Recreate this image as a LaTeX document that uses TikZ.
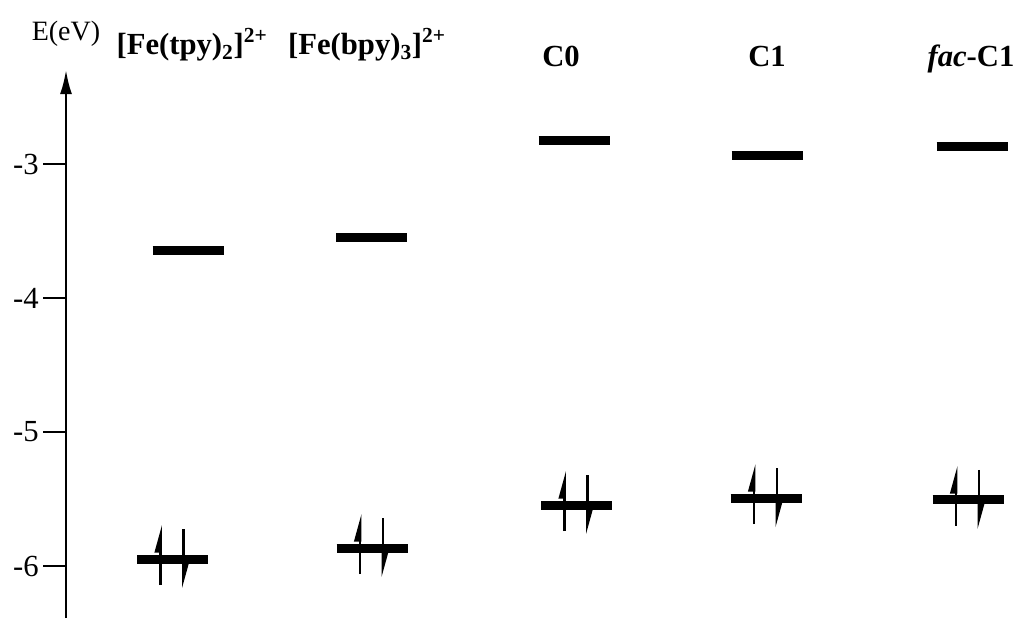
\documentclass[tikz,border=0pt]{standalone}
\usepackage{fontspec}
\setmainfont{Liberation Serif}
\usetikzlibrary{arrows.meta}

\tikzset{
  level/.style={line width=6.75pt},
  spin/.style={line width=2.2pt, -{Triangle[harpoon,length=17pt,width=8.5pt]}},
  molname/.style={anchor=base, inner sep=0pt, font=\fontsize{23}{27}\selectfont\bfseries},
}

\begin{document}
\begin{tikzpicture}[x=0.75pt, y=100.5pt]
      % page frame (pixels across, eV up)
      \useasboundingbox (0,-6.388) rectangle (1028,-1.776);

      % Energy axis
      \draw[line width=1.5pt, -{Latex[length=18pt,width=9pt]}] (66,-6.388) -- (66,-2.300);
      \node[font=\fontsize{21}{24}\selectfont, inner sep=0pt] (eaxis) at (66,-2.030) {E(eV)};
      \foreach \e [count=\i] in {-3,-4,-5,-6}{
        \draw[line width=1.5pt] (43,\e) -- (66,\e);
        \node[anchor=east, inner sep=0pt, font=\fontsize{23}{26}\selectfont] (tick\i) at (39,\e) {\e};
      }

      % Complexes
      \node[molname] (tpy) at (192,-2.185) {[Fe(tpy)\textsubscript{2}]\textsuperscript{2+}};
      \node[molname] (bpy) at (367,-2.185) {[Fe(bpy)\textsubscript{3}]\textsuperscript{2+}};
      \node[molname] (czero) at (561,-2.275) {C0};
      \node[molname] (cone) at (767,-2.275) {C1};
      \node[molname] (facone) at (971,-2.275) {\textit{fac}-C1};

      % LUMO and HOMO levels, two paired spins on each HOMO
      \foreach \lx/\lumo/\hx/\homo in {188/-3.642/172.5/-5.948, 371.5/-3.552/372/-5.866,
                                       574/-2.821/576.5/-5.545, 767/-2.933/766/-5.493,
                                       972/-2.873/968/-5.507}{
        \draw[level] (\lx-35.5,\lumo) -- (\lx+35.5,\lumo);
        \draw[level] (\hx-35.5,\homo) -- (\hx+35.5,\homo);
        \draw[spin] (\hx-12,\homo-0.194) -- (\hx-12,\homo+0.261);
        \draw[spin] (\hx+11,\homo+0.224) -- (\hx+11,\homo-0.224);
      }
    \end{tikzpicture}
\end{document}
